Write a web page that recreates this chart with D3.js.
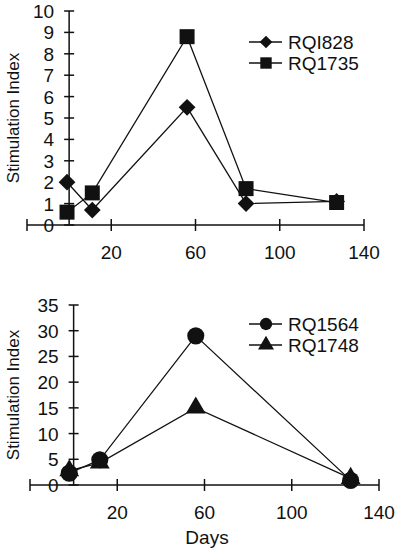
<!DOCTYPE html>
<html><head><meta charset="utf-8">
<script src="https://cdn.jsdelivr.net/npm/d3@7"></script>
<style>body{margin:0;background:#fff}svg{display:block}text{font-family:"Liberation Sans",Arial,sans-serif;fill:#111}</style>
</head><body>
<script>
const topDays = [-1, 11, 56, 84, 127];
const rqi828 = [2.0, 0.7, 5.5, 1.0, 1.1];
const rq1735 = [0.6, 1.5, 8.8, 1.7, 1.05];
const topYTicks = [0,1,2,3,4,5,6,7,8,9,10];

const botDays = [-2, 12, 56, 127];
const rq1564 = [2.3, 4.9, 29, 0.9];
const rq1748 = [2.8, 4.3, 15, 1.3];
const botYTicks = [0,5,10,15,20,25,30,35];

const xTicks = [-20, 20, 60, 100, 140];
const xTickLabels = ["", "20", "60", "100", "140"];

const svg = d3.select("body").append("svg").attr("width",400).attr("height",552);

function panel(opt){
  const x = d3.scaleLinear().domain([-20,140]).range(opt.xr);
  const y = d3.scaleLinear().domain([0,opt.ymax]).range(opt.yr);
  const g = svg.append("g");
  g.append("line").attr("x1",x(-20)).attr("x2",x(140)).attr("y1",y(0)).attr("y2",y(0)).attr("stroke","#111").attr("stroke-width",1.5);
  xTicks.forEach((t,i)=>{
    g.append("line").attr("x1",x(t)).attr("x2",x(t)).attr("y1",y(0)-6).attr("y2",y(0)+6).attr("stroke","#111").attr("stroke-width",1.5);
    if(xTickLabels[i]) g.append("text").attr("x",x(t)).attr("y",y(0)+34).attr("text-anchor","middle").attr("font-size",19).text(xTickLabels[i]);
  });
  g.append("line").attr("x1",x(0)).attr("x2",x(0)).attr("y1",y(0)).attr("y2",y(opt.ymax)).attr("stroke","#111").attr("stroke-width",1.5);
  opt.yticks.forEach(t=>{
    g.append("line").attr("x1",x(0)-5).attr("x2",x(0)+5).attr("y1",y(t)).attr("y2",y(t)).attr("stroke","#111").attr("stroke-width",1.5);
    g.append("text").attr("x",x(0)-15).attr("y",y(t)+7).attr("text-anchor","end").attr("font-size",19).text(t);
  });
  g.append("text").attr("transform",`translate(${opt.ylabX},${(y(0)+y(opt.ymax))/2}) rotate(-90)`)
    .attr("text-anchor","middle").attr("font-size",17).text("Stimulation Index");
  const line = d3.line().x(d=>x(d[0])).y(d=>y(d[1]));
  opt.series.forEach(s=>{
    const pts = s.days.map((d,i)=>[d,s.vals[i]]);
    g.append("path").attr("d",line(pts)).attr("fill","none").attr("stroke","#111").attr("stroke-width",1.3);
  });
  opt.series.forEach((s,si)=>{
    const pts = s.days.map((d,i)=>[d,s.vals[i]]);
    pts.forEach(p=>{
      g.append("path").attr("d",d3.symbol().type(s.sym).size(s.size)())
        .attr("transform",`translate(${x(p[0])},${y(p[1])}) rotate(${s.rot||0})`).attr("fill","#111");
    });
    const ly = opt.legY + si*21;
    g.append("line").attr("x1",249).attr("x2",282).attr("y1",ly).attr("y2",ly).attr("stroke","#111").attr("stroke-width",1.3);
    g.append("path").attr("d",d3.symbol().type(s.sym).size(s.lsize)())
      .attr("transform",`translate(266,${ly}) rotate(${s.rot||0})`).attr("fill","#111");
    g.append("text").attr("x",288).attr("y",ly+7).attr("font-size",19).text(s.name);
  });
}

panel({xr:[27,364], yr:[225,11], ymax:10, yticks:topYTicks, ylabX:19, legY:42,
  series:[
    {name:"RQI828", days:topDays, vals:rqi828, sym:d3.symbolSquare, rot:45, size:140, lsize:80},
    {name:"RQ1735", days:topDays, vals:rq1735, sym:d3.symbolSquare, size:225, lsize:130}
  ]});
panel({xr:[30,379], yr:[485,305], ymax:35, yticks:botYTicks, ylabX:19, legY:324,
  series:[
    {name:"RQ1564", days:botDays, vals:rq1564, sym:d3.symbolCircle, size:230, lsize:120},
    {name:"RQ1748", days:botDays, vals:rq1748, sym:d3.symbolTriangle, size:170, lsize:110}
  ]});
svg.append("text").attr("x",207).attr("y",544).attr("text-anchor","middle").attr("font-size",19).text("Days");
</script>
</body></html>
